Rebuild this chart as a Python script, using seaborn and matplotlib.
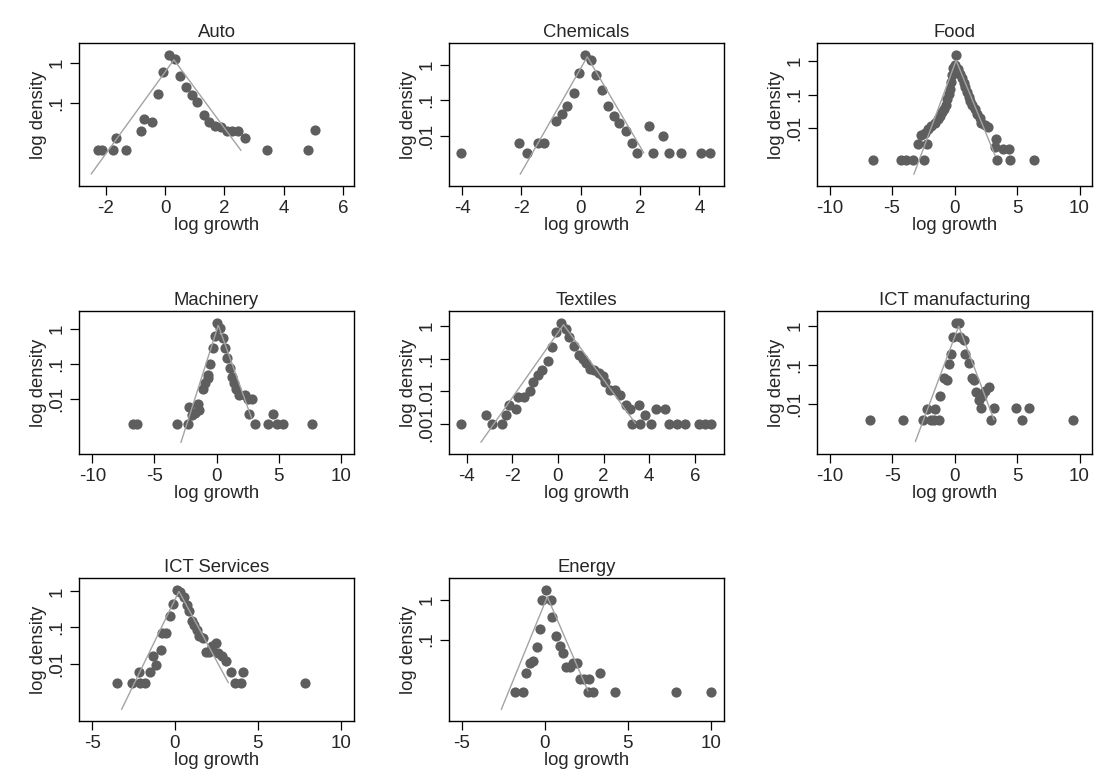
import numpy as np
import matplotlib
matplotlib.use("Agg")
import matplotlib.pyplot as plt
import seaborn as sns
from matplotlib.ticker import FixedLocator, FuncFormatter, NullLocator

# sector panels, in reading order
sectors = ["Auto", "Chemicals", "Food", "Machinery", "Textiles",
           "ICT manufacturing", "ICT Services", "Energy"]

# observed points: log growth and log10 density
auto_growth = [-2.25, -2.11, -1.76, -1.65, -1.31, -0.81, -0.71, -0.45, -0.25, -0.06,
               0.15, 0.34, 0.51, 0.70, 0.90, 1.09, 1.30, 1.48, 1.69, 1.89,
               2.08, 2.27, 2.45, 2.71, 3.43, 4.83, 5.07]
auto_logd = [-2.19, -2.19, -2.19, -1.88, -2.19, -1.70, -1.41, -1.49, -0.77, -0.23,
             0.21, 0.11, -0.32, -0.59, -0.81, -0.98, -1.29, -1.48, -1.58, -1.60,
             -1.70, -1.70, -1.70, -1.88, -2.19, -2.19, -1.68]

chem_growth = [-4.04, -2.08, -1.82, -1.43, -1.25, -0.84, -0.64, -0.47, -0.22, -0.06,
               0.15, 0.34, 0.52, 0.73, 0.93, 1.11, 1.30, 1.52, 1.72, 1.91,
               2.31, 2.45, 2.79, 2.98, 3.39, 4.04, 4.36]
chem_logd = [-2.49, -2.20, -2.49, -2.20, -2.20, -1.60, -1.38, -1.17, -0.80, -0.24,
             0.28, 0.12, -0.28, -0.72, -1.16, -1.46, -1.64, -1.88, -2.20, -2.49,
             -1.72, -2.49, -2.01, -2.49, -2.49, -2.49, -2.49]

food_growth = [-6.53, -4.32, -3.87, -3.33, -2.48, -2.93, -2.19, -2.72, -2.35, -2.13,
               -1.87, -1.60, -1.33, -1.15, -0.99, -0.85, -0.72, -0.59, -0.48, -0.40,
               -0.27, -0.19, -0.13, 0.00, 0.10, 0.27, 0.45, 0.59, 0.72, 0.85,
               0.99, 1.12, 1.25, 1.41, 1.60, 1.79, 2.00, 2.13, 2.40, 2.70,
               3.20, 3.33, 3.87, 4.32, 3.39, 4.40, 6.35]
food_logd = [-2.94, -2.94, -2.94, -2.94, -2.94, -2.47, -2.47, -2.22, -2.15, -2.02,
             -1.95, -1.84, -1.74, -1.64, -1.52, -1.42, -1.30, -1.14, -0.97, -0.83,
             -0.63, -0.41, -0.21, -0.11, 0.17, -0.23, -0.38, -0.51, -0.65, -0.78,
             -0.93, -1.07, -1.20, -1.32, -1.44, -1.57, -1.70, -1.84, -1.92, -1.98,
             -2.57, -2.32, -2.62, -2.62, -2.94, -2.94, -2.94]

mach_growth = [-6.70, -6.43, -3.22, -2.28, -2.20, -2.01, -1.74, -1.47, -1.39, -1.13,
               -0.94, -0.73, -0.67, -0.54, -0.32, -0.14, 0.05, 0.27, 0.48, 0.67,
               0.86, 1.07, 1.21, 1.39, 1.55, 1.83, 2.28, 2.82, 2.62, 3.08,
               4.16, 4.83, 5.36, 4.50, 7.64, 2.55]
mach_logd = [-2.72, -2.72, -2.72, -2.72, -2.22, -2.46, -2.41, -2.15, -2.31, -1.70,
             -1.55, -1.41, -1.30, -1.01, -0.55, -0.19, 0.19, 0.02, -0.25, -0.55,
             -0.82, -1.12, -1.36, -1.55, -1.70, -1.89, -1.89, -2.00, -2.44, -2.72,
             -2.72, -2.72, -2.72, -2.44, -2.72, -2.00]

text_growth = [-4.26, -3.16, -2.87, -2.46, -2.27, -2.14, -1.85, -1.76, -1.48, -1.24,
               -1.07, -0.89, -0.70, -0.45, -0.26, -0.09, 0.13, 0.35, 0.50, 0.72,
               0.91, 1.08, 1.24, 1.42, 1.60, 1.79, 1.96, 2.08, 2.30, 2.52,
               2.74, 3.00, 3.18, 3.25, 3.54, 3.62, 3.84, 4.06, 4.32, 4.71,
               4.86, 5.23, 5.55, 6.18, 6.44, 6.69]
text_logd = [-3.01, -2.72, -3.01, -3.01, -2.72, -2.42, -2.54, -2.16, -2.16, -1.99,
             -1.70, -1.50, -1.35, -1.06, -0.63, -0.19, 0.10, -0.09, -0.33, -0.61,
             -0.87, -0.99, -1.12, -1.30, -1.35, -1.42, -1.52, -1.70, -1.96, -1.96,
             -2.11, -2.42, -2.54, -3.01, -2.42, -3.01, -2.72, -3.01, -2.54, -2.54,
             -3.01, -3.01, -3.01, -3.01, -3.01, -3.01]

ictm_growth = [-6.76, -4.14, -2.54, -1.87, -1.68, -1.28, -2.22, -1.55, -1.20, -0.85,
               -0.61, -0.48, -0.32, -0.13, 0.08, 0.35, 0.45, 0.72, 0.85, 1.12,
               1.39, 1.52, 1.68, 1.92, 2.19, 2.46, 2.72, 2.14, 2.94, 3.15,
               4.94, 5.93, 5.39, 9.48]
ictm_logd = [-2.41, -2.41, -2.41, -2.41, -2.41, -2.41, -2.13, -2.13, -1.81, -1.34,
             -1.38, -0.98, -0.72, -0.27, 0.09, 0.09, -0.27, -0.36, -0.72, -0.94,
             -1.34, -1.38, -1.70, -1.91, -1.81, -1.68, -1.57, -2.11, -2.41, -2.11,
             -2.11, -2.11, -2.41, -2.41]

icts_growth = [-3.48, -2.62, -2.11, -1.81, -2.15, -1.51, -1.17, -1.35, -0.87, -0.76,
               -0.56, -0.30, -0.14, 0.10, 0.30, 0.54, 0.70, 0.85, 1.01, 1.17,
               1.31, 1.47, 1.71, 1.87, 2.07, 2.25, 2.47, 2.62, 2.86, 3.08,
               3.38, 3.62, 3.98, 4.12, 7.85]
icts_logd = [-2.53, -2.53, -2.53, -2.53, -2.24, -2.24, -2.05, -1.78, -1.63, -1.15,
             -1.15, -0.69, -0.34, 0.05, -0.03, -0.16, -0.37, -0.55, -0.81, -0.94,
             -1.08, -1.23, -1.29, -1.69, -1.69, -1.50, -1.43, -1.72, -1.80, -1.94,
             -2.24, -2.53, -2.53, -2.24, -2.53]

ener_growth = [-1.79, -1.29, -1.14, -0.88, -0.70, -0.44, -0.30, -0.14, 0.06, 0.36,
               0.46, 0.70, 0.90, 1.10, 1.27, 1.51, 1.71, 1.97, 2.11, 2.37,
               2.67, 2.61, 2.93, 3.31, 4.22, 7.89, 10.0]
ener_logd = [-2.31, -2.31, -1.83, -1.58, -1.54, -1.18, -0.73, -0.02, 0.23, -0.02,
             -0.43, -0.90, -1.15, -1.35, -1.68, -1.68, -1.60, -1.60, -2.00, -2.00,
             -2.00, -2.31, -2.31, -1.83, -2.31, -2.31, -2.31]

# fitted Laplace (tent) lines: left end, peak, right end
auto_fit_growth, auto_fit_logd = [-2.49, 0.30, 2.56], [-2.78, 0.08, -2.19]
chem_fit_growth, chem_fit_logd = [-2.04, 0.22, 2.13], [-3.09, 0.22, -2.49]
food_fit_growth, food_fit_logd = [-3.25, 0.13, 3.25], [-3.38, 0.02, -2.82]
mach_fit_growth, mach_fit_logd = [-2.87, 0.13, 2.82], [-3.24, 0.11, -2.55]
text_fit_growth, text_fit_logd = [-3.37, 0.25, 3.40], [-3.56, 0.05, -2.98]
ictm_fit_growth, ictm_fit_logd = [-3.15, 0.32, 3.15], [-2.97, 0.00, -2.41]
icts_fit_growth, icts_fit_logd = [-3.22, 0.24, 3.22], [-3.27, 0.00, -2.53]
ener_fit_growth, ener_fit_logd = [-2.61, 0.16, 2.61], [-2.75, 0.07, -2.29]

# tick values shown on each panel
auto_xticks, auto_yticks = [-2, 0, 2, 4, 6], [1, 0.1]
chem_xticks, chem_yticks = [-4, -2, 0, 2, 4], [1, 0.1, 0.01]
food_xticks, food_yticks = [-10, -5, 0, 5, 10], [1, 0.1, 0.01]
mach_xticks, mach_yticks = [-10, -5, 0, 5, 10], [1, 0.1, 0.01]
text_xticks, text_yticks = [-4, -2, 0, 2, 4, 6], [1, 0.1, 0.01, 0.001]
ictm_xticks, ictm_yticks = [-10, -5, 0, 5, 10], [1, 0.1, 0.01]
icts_xticks, icts_yticks = [-5, 0, 5, 10], [1, 0.1, 0.01]
ener_xticks, ener_yticks = [-5, 0, 5, 10], [1, 0.1]

panels = [
    (auto_growth, auto_logd, auto_fit_growth, auto_fit_logd, auto_xticks, auto_yticks),
    (chem_growth, chem_logd, chem_fit_growth, chem_fit_logd, chem_xticks, chem_yticks),
    (food_growth, food_logd, food_fit_growth, food_fit_logd, food_xticks, food_yticks),
    (mach_growth, mach_logd, mach_fit_growth, mach_fit_logd, mach_xticks, mach_yticks),
    (text_growth, text_logd, text_fit_growth, text_fit_logd, text_xticks, text_yticks),
    (ictm_growth, ictm_logd, ictm_fit_growth, ictm_fit_logd, ictm_xticks, ictm_yticks),
    (icts_growth, icts_logd, icts_fit_growth, icts_fit_logd, icts_xticks, icts_yticks),
    (ener_growth, ener_logd, ener_fit_growth, ener_fit_logd, ener_xticks, ener_yticks),
]

# axis ranges (x limits, log10 y limits) per panel
ranges = [
    ((-2.90, 6.37), (-3.08, 0.50)),
    ((-4.44, 4.83), (-3.42, 0.61)),
    ((-11.0, 11.0), (-3.73, 0.54)),
    ((-11.07, 11.05), (-3.57, 0.52)),
    ((-4.77, 7.28), (-3.92, 0.47)),
    ((-11.03, 11.0), (-3.29, 0.39)),
    ((-5.79, 10.8), (-3.59, 0.37)),
    ((-5.76, 10.8), (-3.04, 0.54)),
]

sns.set_style("ticks")
plt.rcParams['font.family'] = ['Liberation Sans', 'DejaVu Sans']
plt.rcParams['axes.unicode_minus'] = False

W, H = 1102, 776
fig = plt.figure(figsize=(W / 100, H / 100), dpi=100)
fig.patch.set_facecolor("white")

col_left = [79, 449, 817]
row_top = [43, 311, 578]
box_w, box_h = 275, 143

dot_color = "#5e5e5e"
line_color = "#a3a3a3"


def dens_label(v, pos):
    return f"{v:g}".replace("0.", ".", 1) if v < 1 else f"{v:g}"


for i, (name, (gx, gy, fx, fy, xt, yt), (xl, yl)) in enumerate(zip(sectors, panels, ranges)):
    r, c = divmod(i, 3)
    left = col_left[c] / W
    bottom = 1 - (row_top[r] + box_h) / H
    ax = fig.add_axes([left, bottom, box_w / W, box_h / H])

    sns.scatterplot(x=gx, y=10 ** np.array(gy), ax=ax, color=dot_color,
                    s=54, linewidth=0, zorder=2)
    sns.lineplot(x=fx, y=10 ** np.array(fy), ax=ax, color=line_color,
                 linewidth=1.0, estimator=None, sort=False, zorder=3)

    ax.set_yscale("log")
    ax.set_xlim(*xl)
    ax.set_ylim(10 ** yl[0], 10 ** yl[1])
    ax.xaxis.set_major_locator(FixedLocator(xt))
    ax.yaxis.set_major_locator(FixedLocator(yt))
    ax.yaxis.set_minor_locator(NullLocator())
    ax.yaxis.set_major_formatter(FuncFormatter(dens_label))
    ax.xaxis.set_major_formatter(FuncFormatter(lambda v, p: f"{v:g}"))
    for lab in ax.get_yticklabels():
        lab.set_rotation(90)
        lab.set_va("center")

    ax.tick_params(axis="both", length=6.3, width=0.9, color="black",
                   labelsize=13.5, pad=3.5)
    for sp in ax.spines.values():
        sp.set_visible(True)
        sp.set_color("black")
        sp.set_linewidth(1.0)

    ax.set_title(name, fontsize=13.3, pad=4)
    ax.set_xlabel("log growth", fontsize=13.3, labelpad=0)
    ax.set_ylabel("log density", fontsize=13.3, labelpad=1)

fig.savefig("out.png", dpi=100, facecolor="white")
